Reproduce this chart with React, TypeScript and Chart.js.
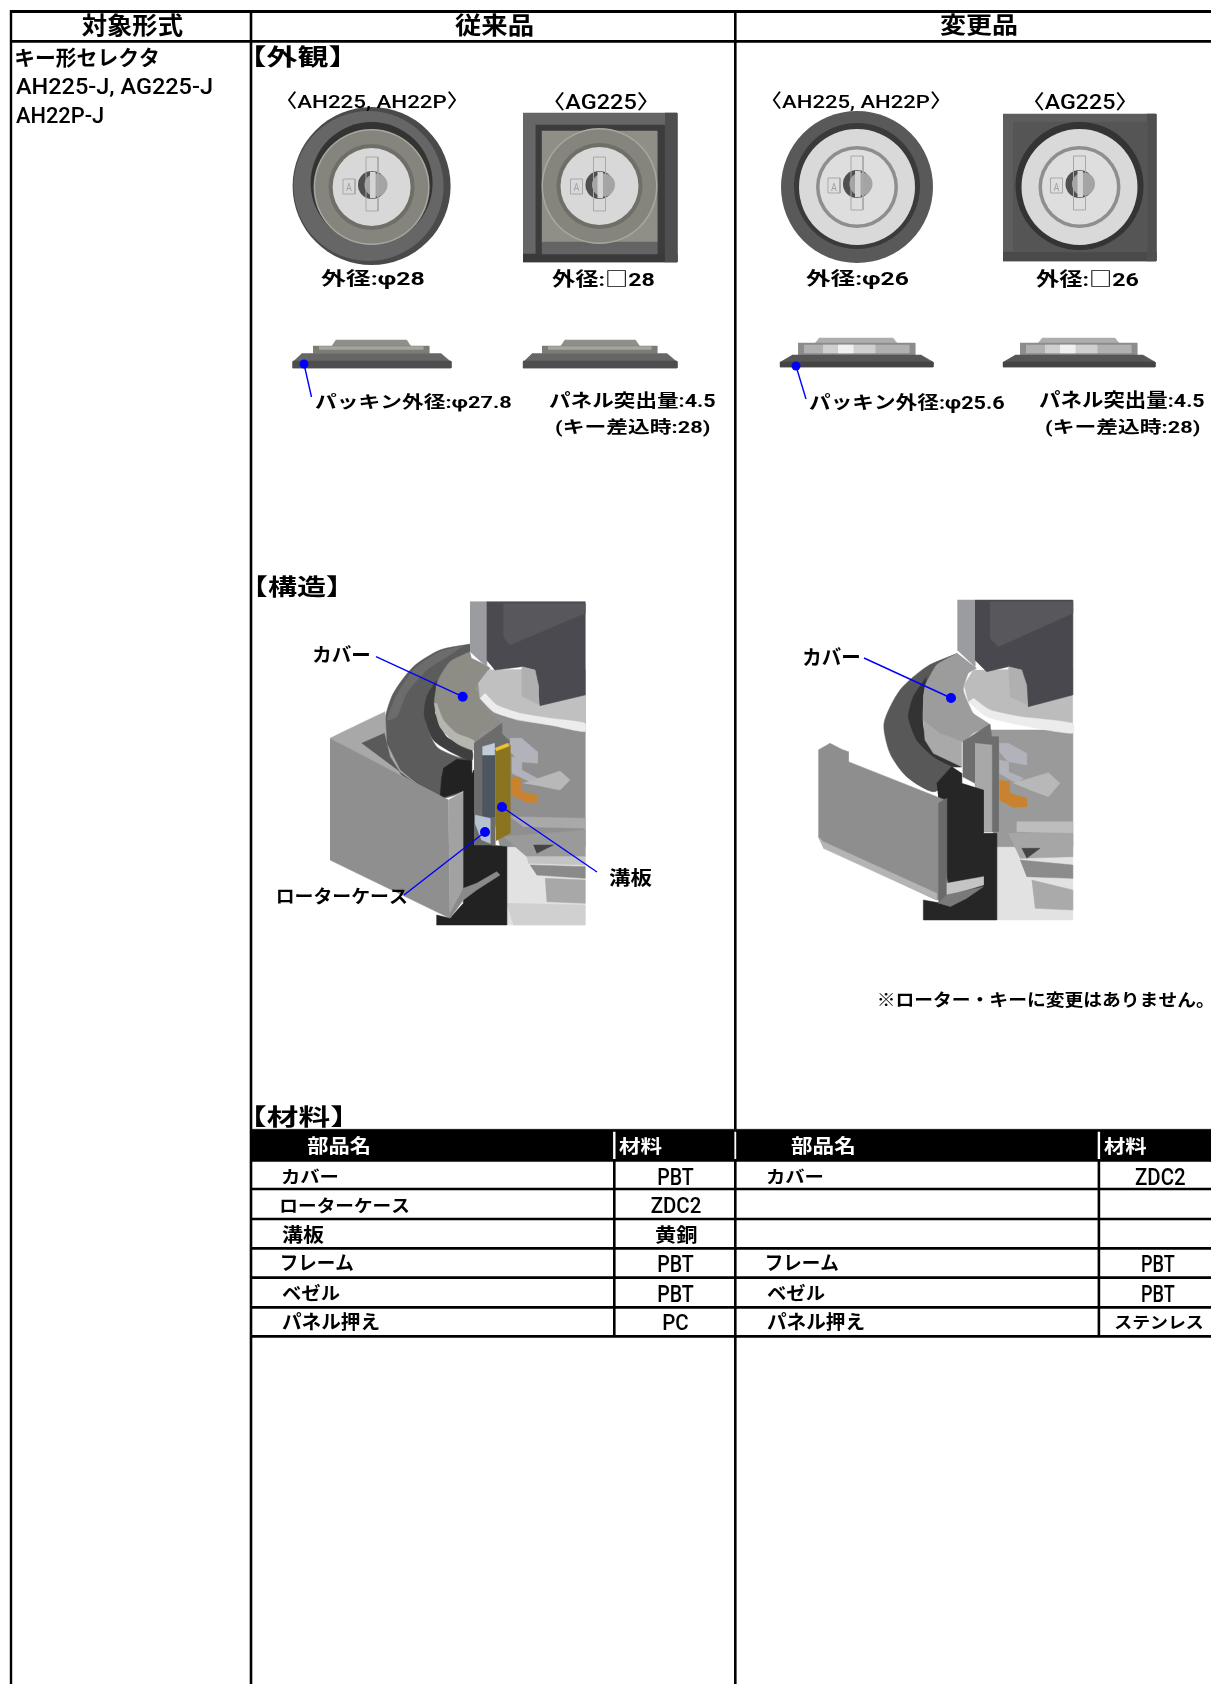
import React, { useEffect, useRef } from "react";
import { Chart, registerables } from "chart.js";

Chart.register(...registerables);

const PAGE_W = 1211;
const PAGE_H = 1684;
const FONT = 'Roboto, "Noto Sans CJK JP", sans-serif';

// ---- text content ----
const headers = ["対象形式", "従来品", "変更品"];
const targetLines = ["キー形セレクタ", "AH225-J, AG225-J", "AH22P-J"];
const sections = ["【外観】", "【構造】", "【材料】"];
const tableHead = ["部品名", "材料"];
const oldParts = ["カバー", "ローターケース", "溝板", "フレーム", "ベゼル", "パネル押え"];
const oldMaterials = ["PBT", "ZDC2", "黄銅", "PBT", "PBT", "PC"];
const newParts = ["カバー", "", "", "フレーム", "ベゼル", "パネル押え"];
const newMaterials = ["ZDC2", "", "", "PBT", "PBT", "ステンレス"];

// ---- table geometry, in page units of the hidden scales ----
const rowLines = [1161, 1189, 1219, 1248.3, 1277.7, 1307.3, 1336.3];
const partX = [[281.7, 337.3], [281.7, 409], [282, 324], [282, 353], [282, 340], [282, 379.3]];
const partY = [[1169, 1184.3], [1196.7, 1214.3], [1225, 1244.3], [1254, 1271.7], [1284, 1301.7], [1312.7, 1331.7]];
const newPartShift = 486;
const oldMatX = [[658, 694], [650.7, 700.7], [656, 696.7], [658, 694], [658, 694], [663, 688]];
const newMatX = [[1135, 1185], [0, 0], [0, 0], [1141.7, 1175], [1141.7, 1175], [1115, 1203]];
const matY = [[1168, 1184.5], [1197, 1213], [1225, 1244], [1255, 1271.7], [1284.5, 1301.7], [1315, 1330]];

type Ink = [string, number, number, number, number, string?, string?];
const freeLabels: Ink[] = [
  [headers[0], 81.7, 183, 13, 37],
  [headers[1], 455, 533, 13, 37],
  [headers[2], 940, 1017, 13, 37],
  [targetLines[0], 16, 158, 47, 68],
  [targetLines[1], 16, 211.7, 79, 98, "500"],
  [targetLines[2], 16, 103, 107, 123, "500"],
  [sections[0], 255, 340, 45, 68],
  [sections[1], 257, 337, 575, 598],
  [sections[2], 255, 342, 1105, 1128],
  ["〈AH225, AH22P〉", 287, 457, 92, 111, "500"],
  ["〈AH225, AH22P〉", 772, 940, 92, 111, "500"],
  ["〈AG225〉", 554.5, 647.5, 92, 111, "500"],
  ["〈AG225〉", 1034, 1126, 92, 111, "500"],
  ["外径:φ28", 321, 424, 269, 290],
  ["外径:□28", 552, 654, 269, 288],
  ["外径:φ26", 806, 908, 269, 290],
  ["外径:□26", 1036, 1138, 269, 288],
  ["パッキン外径:φ27.8", 315, 511, 393, 412],
  ["パネル突出量:4.5", 549, 715, 391, 409],
  ["(キー差込時:28)", 556, 710, 418, 437],
  ["パッキン外径:φ25.6", 809, 1004, 393, 413],
  ["パネル突出量:4.5", 1039, 1204, 390, 409],
  ["(キー差込時:28)", 1046, 1200, 418, 437],
  ["カバー", 313, 369, 646, 664],
  ["溝板", 609, 652, 868, 887],
  ["ローターケース", 278, 407, 887, 905],
  ["カバー", 803, 859, 648, 667],
  ["※ローター・キーに変更はありません。", 879, 1203, 991, 1009],
];

// ---- illustration outlines ----
type P = [number, number];
type Shape = [string, P[], number?];
const leftCut: Shape[] = [
  ["#e2e2e2", [[760, 810], [1005, 810], [1005, 1065], [760, 1065]]],
  ["#8f8f8f", [[680, 300], [1005, 300], [1005, 830], [750, 830], [680, 500]]],
  ["#a9a9a9", [[780, 740], [1005, 745], [1005, 775], [820, 770]]],
  ["#9a9a9a", [[760, 800], [1005, 780], [1005, 860], [830, 860]]],
  ["#444444", [[850, 825], [910, 825], [860, 850]]],
  ["#c4c4c4", [[830, 860], [1005, 860], [1005, 885], [835, 880]]],
  ["#8a8a8a", [[840, 885], [1005, 890], [1005, 925], [860, 915]]],
  ["#a8a8a8", [[885, 925], [1005, 930], [1005, 1000], [890, 995]]],
  ["#d0d0d0", [[770, 1000], [1005, 1005], [1005, 1065], [790, 1065]]],
  // cover rubber, outer band then inner dark band
  ["#5c5c5c", [[660, 222], [570, 240], [490, 290], [430, 370], [405, 450], [412, 530], [450, 600], [510, 648], [570, 685], [640, 660], [660, 570], [620, 560], [560, 530], [525, 450], [540, 380], [590, 310], [660, 262]], 0.25],
  ["#6c6c6c", [[640, 228], [570, 245], [495, 295], [440, 375], [412, 450], [440, 440], [470, 370], [530, 300], [600, 255]], 0.2],
  ["#3f3f3f", [[560, 330], [530, 380], [523, 440], [550, 510], [610, 550], [665, 572], [665, 540], [590, 500], [555, 430]], 0.25],
  ["#222222", [[580, 595], [620, 568], [665, 572], [665, 655], [570, 685], [575, 620]]],
  // cover face
  ["#8d8d85", [[660, 245], [600, 275], [565, 330], [553, 400], [570, 470], [620, 520], [672, 540], [690, 490], [750, 460], [705, 415], [680, 360], [690, 320], [720, 295], [665, 265]], 0.2],
  ["#b6b6b0", [[553, 400], [570, 470], [620, 520], [672, 540], [672, 512], [620, 490], [580, 450], [560, 400]], 0.2],
  // top disc and its bright edge
  ["#c0c0c0", [[715, 300], [685, 340], [690, 385], [730, 425], [800, 450], [900, 465], [1005, 470], [1005, 295]]],
  ["#ececec", [[690, 385], [730, 425], [800, 448], [900, 465], [1005, 485], [1005, 460], [900, 445], [810, 430], [740, 405], [705, 370]], 0.2],
  // key
  ["#9a9ca0", [[660, 95], [710, 95], [710, 290], [660, 245]]],
  ["#4a4a50", [[710, 95], [1005, 95], [1005, 375], [870, 407], [862, 340], [855, 300], [815, 290], [735, 300], [710, 270]]],
  ["#57575c", [[760, 100], [1005, 100], [1005, 130], [780, 225], [760, 200]]],
  ["#b0b0b0", [[815, 290], [855, 300], [865, 345], [865, 403], [815, 378]]],
  // pins and lever
  ["#b2b2ba", [[780, 505], [815, 505], [862, 545], [862, 580], [810, 575], [780, 545]]],
  ["#b2b2ba", [[785, 560], [815, 565], [815, 600], [862, 625], [840, 635], [785, 610]]],
  ["#b8b8b8", [[820, 640], [880, 620], [930, 603], [960, 630], [930, 660], [880, 650]]],
  ["#c98230", [[785, 622], [810, 622], [815, 665], [862, 675], [862, 697], [830, 697], [785, 675]]],
  // box
  ["#a8a8a8", [[240, 505], [270, 490], [405, 425], [410, 520], [450, 600], [510, 650], [565, 685], [595, 690]]],
  ["#5a5a5a", [[335, 520], [403, 490], [420, 560], [455, 615], [510, 650]]],
  ["#8f8f8f", [[240, 505], [595, 690], [600, 1045], [240, 870]]],
  ["#a2a2a2", [[595, 690], [640, 665], [640, 970], [600, 1045]]],
  // section
  ["#222222", [[640, 660], [672, 600], [672, 820], [770, 830], [770, 1065], [560, 1065], [560, 1035], [600, 1045], [640, 1000], [640, 970]]],
  ["#8a8a8a", [[640, 955], [680, 940], [740, 905], [750, 915], [680, 960], [640, 990], [600, 1045], [600, 1030]]],
  ["#6c6c6c", [[672, 520], [755, 460], [755, 490], [780, 515], [735, 545], [735, 825], [672, 825]]],
  ["#4c5560", [[697, 530], [733, 520], [733, 740], [697, 745]]],
  ["#c0ccd8", [[697, 530], [733, 520], [733, 555], [697, 555]]],
  ["#b5c2cf", [[675, 735], [720, 745], [720, 820], [695, 810], [675, 760]]],
  ["#8a7420", [[738, 540], [780, 525], [780, 790], [738, 812]]],
  ["#eec331", [[735, 535], [772, 520], [778, 528], [738, 543]]],
];
const rightCut: Shape[] = [
  ["#e2e2e2", [[710, 820], [938, 820], [938, 1050], [710, 1050]]],
  ["#9a9a9a", [[690, 480], [938, 480], [938, 830], [700, 830]]],
  ["#bdbdbd", [[770, 755], [938, 755], [938, 790], [770, 785]]],
  ["#a6a6a6", [[745, 790], [938, 790], [938, 860], [780, 865]]],
  ["#444444", [[785, 835], [840, 835], [800, 865]]],
  ["#8c8c8c", [[780, 870], [938, 885], [938, 925], [800, 920]]],
  ["#aaaaaa", [[815, 930], [938, 960], [938, 1020], [825, 1015]]],
  // rubber
  ["#585858", [[592, 250], [500, 290], [420, 360], [372, 460], [390, 550], [440, 620], [525, 665], [580, 590], [540, 570], [500, 530], [470, 470], [480, 390], [520, 310]], 0.25],
  ["#333333", [[500, 320], [460, 380], [445, 440], [470, 510], [520, 560], [580, 590], [605, 590], [520, 540], [490, 470], [490, 380]], 0.2],
  // cover
  ["#9c9c9c", [[592, 250], [530, 285], [495, 350], [490, 450], [520, 500], [610, 515], [640, 490], [690, 465], [640, 430], [610, 360], [625, 310], [650, 295]], 0.15],
  ["#a9a9a9", [[490, 450], [495, 510], [520, 550], [605, 590], [605, 515], [540, 490]]],
  // disc
  ["#bcbcbc", [[640, 300], [612, 345], [625, 395], [680, 430], [780, 450], [938, 470], [938, 295]]],
  ["#ececec", [[625, 395], [680, 440], [780, 465], [938, 490], [938, 460], [780, 440], [690, 420], [640, 385]], 0.2],
  // key
  ["#9a9ca0", [[592, 90], [645, 90], [645, 290], [592, 240]]],
  ["#48484e", [[645, 90], [938, 90], [938, 375], [805, 410], [795, 340], [785, 300], [745, 290], [680, 305], [645, 270]]],
  ["#57575c", [[690, 95], [938, 95], [938, 130], [715, 230], [690, 205]]],
  ["#b0b0b0", [[745, 290], [785, 300], [800, 345], [803, 405], [750, 380]]],
  // pins
  ["#b2b2ba", [[718, 520], [745, 520], [800, 550], [800, 585], [745, 575], [718, 545]]],
  ["#b2b2ba", [[718, 570], [745, 575], [745, 605], [790, 625], [770, 640], [718, 610]]],
  ["#b8b8b8", [[760, 640], [810, 625], [865, 608], [900, 640], [865, 680], [810, 660]]],
  ["#c98230", [[718, 630], [748, 635], [750, 670], [800, 685], [800, 710], [760, 712], [718, 690]]],
  // section
  ["#6e6e6e", [[608, 515], [690, 462], [695, 500], [715, 500], [715, 785], [670, 785], [645, 640], [608, 620]]],
  ["#a8a8a8", [[645, 520], [695, 525], [695, 785], [670, 785], [645, 640]]],
  ["#262626", [[530, 640], [575, 590], [605, 610], [605, 640], [670, 660], [670, 790], [710, 790], [710, 1050], [490, 1050], [490, 990], [545, 1000], [565, 960]]],
  // panel
  ["#8e8e8e", [[175, 540], [210, 520], [245, 538], [265, 545], [265, 575], [555, 690], [555, 985], [530, 990], [190, 830], [175, 800]]],
  ["#b4b4b4", [[175, 800], [190, 815], [530, 970], [530, 990], [190, 835]]],
  ["#6a6a6a", [[535, 700], [560, 685], [560, 985], [535, 1000]]],
  ["#c4c4c4", [[560, 940], [670, 920], [670, 945], [590, 970], [560, 975]]],
  ["#7a7a7a", [[535, 1000], [560, 975], [670, 950], [620, 985], [570, 1010]]],
];
const blueLeaders: [P, P][] = [
  [[304, 364], [311.5, 397]],
  [[796, 366], [806, 399]],
  [[376, 656.7], [462.7, 696.7]],
  [[502, 807], [597, 872]],
  [[485, 832], [404, 895]],
  [[864, 658], [951, 698]],
];

type DS = any;
const built: DS[] = [];
const poly = (pts: P[], color: string, tension = 0) =>
  built.push({
    type: "line",
    data: pts.map(([x, y]) => ({ x, y })),
    fill: "shape",
    backgroundColor: color,
    borderColor: color,
    borderWidth: 0.5,
    pointRadius: 0,
    tension,
  });
const box = (x0: number, y0: number, x1: number, y1: number, c: string) =>
  poly([[x0, y0], [x1, y0], [x1, y1], [x0, y1]], c);
const disc = (x: number, y: number, r: number, color: string) =>
  built.push({
    type: "scatter",
    data: [{ x, y }],
    showLine: false,
    pointRadius: r,
    pointStyle: "circle",
    pointBackgroundColor: color,
    pointBorderWidth: 0,
  });
const rule = (x0: number, y0: number, x1: number, y1: number, w: number, c = "#000000") =>
  built.push({
    type: "line",
    data: [{ x: x0, y: y0 }, { x: x1, y: y1 }],
    borderColor: c,
    borderWidth: w,
    borderCapStyle: "butt",
    pointRadius: 0,
    fill: false,
  });

function keyFace(cx: number, cy: number, rings: [number, string][], hx: number, hy: number) {
  rings.forEach(([r, c]) => disc(cx, cy, r, c));
  disc(hx, hy, 14, "#4f4f4f");
  disc(hx + 4, hy, 11.5, "#a4a4a4");
  const o = "#a8a8a8";
  // key-slot outline
  rule(hx - 6, hy - 28, hx + 6, hy - 28, 1, o);
  rule(hx + 6, hy - 28, hx + 6, hy + 26, 1, o);
  rule(hx + 6, hy + 26, hx - 6, hy + 26, 1, o);
  rule(hx - 6, hy + 26, hx - 6, hy - 28, 1, o);
  // key profile inside the hole
  poly([[hx - 2, hy - 13], [hx + 3, hy - 13], [hx + 3, hy + 13], [hx - 2, hy + 13]], "#d4d4d4");
  // "A" frame
  rule(hx - 29, hy - 6, hx - 17, hy - 6, 1, o);
  rule(hx - 17, hy - 6, hx - 17, hy + 9, 1, o);
  rule(hx - 17, hy + 9, hx - 29, hy + 9, 1, o);
  rule(hx - 29, hy + 9, hx - 29, hy - 6, 1, o);
}

function buildIllustrations() {
  // front views
  const oldRings: [number, string][] = [[58, "#a8a8a0"], [56.5, "#85857d"], [43, "#6f6f68"], [39, "#d8d8d8"]];
  const newRings: [number, string][] = [[58, "#d9d9d9"], [41, "#8e8e8e"], [37.5, "#dedede"]];
  disc(371.6, 186, 79, "#4a4a4a");
  disc(368.6, 186, 75, "#666666");
  disc(371.6, 183, 61, "#333333");
  keyFace(371.6, 187, oldRings, 372, 185);

  box(523, 113, 677, 262, "#666666");
  box(523, 254, 677, 262, "#3a3a3a");
  box(665, 113, 677, 262, "#4e4e4e");
  box(535.6, 125, 664.5, 254, "#3c3c3c");
  box(541.8, 131, 657, 242, "#8f8f87");
  box(541.8, 242, 657, 254, "#646464");
  keyFace(599.5, 186, oldRings, 599.5, 185);

  disc(857, 187, 76, "#595959");
  disc(857, 186, 63, "#3a3a3a");
  keyFace(857, 187, newRings, 857, 184);

  box(1003, 114, 1156, 261, "#5d5d5d");
  box(1003, 252, 1156, 261, "#4a4a4a");
  box(1147, 114, 1156, 261, "#4f4f4f");
  box(1013, 122, 1147, 252, "#555555");
  disc(1079.5, 186, 64, "#343434");
  keyFace(1079.5, 187, newRings, 1079.5, 184);

  // side views
  const sideOld = (l: number, m0: number, m1: number, t0: number, t1: number, r: number) => {
    poly([[t0 + 4, 340], [t1 - 4, 340], [t1, 346], [t0, 346]], "#8f8f8a");
    box(m0, 346, m1, 353.5, "#7c7c74");
    box(m0 + 6, 346.5, m1 - 6, 349.5, "#a5a59f");
    poly([[l + 9, 353.5], [r - 10, 353.5], [r, 362], [r, 368], [l, 368], [l, 362]], "#666666");
    box(l, 361, r, 368, "#4e4e4e");
  };
  sideOld(292.6, 313, 429, 331.7, 410.7, 451);
  sideOld(523, 542, 657, 560.6, 639.5, 677);
  const sideNew = (l: number, m0: number, m1: number, t0: number, t1: number, r: number) => {
    poly([[t0 + 4, 338], [t1 - 4, 338], [t1, 343], [t0, 343]], "#adadad");
    box(m0, 343, m1, 355, "#8c8c8c");
    box(m0 + 6, 345, m1 - 6, 353, "#b0b0b0");
    box(m0 + 25, 345, m1 - 40, 353, "#cfcfcf");
    box(m0 + 40, 345, m1 - 62, 353, "#f0f0f0");
    poly([[l + 12, 355], [r - 12, 355], [r, 362], [r, 367], [l, 367], [l, 362]], "#565656");
    box(l, 362, r, 367, "#444444");
  };
  sideNew(780, 798, 915, 815, 897, 933);
  sideNew(1003, 1020, 1137, 1038, 1119, 1155);

  // cut-aways
  leftCut.forEach(([c, pts, t]) => poly(pts.map(([x, y]) => [x / 3 + 250, y / 3 + 570] as P), c, t));
  rightCut.forEach(([c, pts, t]) => poly(pts.map(([x, y]) => [x / 3 + 760, y / 3 + 570] as P), c, t));

  // leaders
  blueLeaders.forEach(([a, b]) => rule(a[0], a[1], b[0], b[1], 1.4, "#0000ff"));
  disc(304, 364, 4.5, "#0000ff");
  disc(796, 366, 4.5, "#0000ff");
  disc(462.7, 696.7, 5, "#0000ff");
  disc(502, 807, 5, "#0000ff");
  disc(485, 832, 5, "#0000ff");
  disc(951, 698, 5, "#0000ff");
}

function buildRules() {
  box(251, 1129.3, PAGE_W, 1161.5, "#000000");
  rule(10, 11.5, PAGE_W, 11.5, 3);
  rule(10, 41.3, PAGE_W, 41.3, 2.7);
  rule(11, 10, 11, PAGE_H, 2.4);
  rule(251, 10, 251, PAGE_H, 2.6);
  rule(735.3, 10, 735.3, 1129.3, 2.6);
  rule(735.3, 1161, 735.3, PAGE_H, 2.6);
  rule(735.3, 1131.7, 735.3, 1159, 1.8, "#ffffff");
  rule(614.3, 1131.7, 614.3, 1159, 2.4, "#ffffff");
  rule(1098.9, 1131.7, 1098.9, 1159, 2.4, "#ffffff");
  rule(614.3, 1161, 614.3, rowLines[6], 2.6);
  rule(1098.9, 1161, 1098.9, rowLines[6], 2.6);
  rowLines.slice(1).forEach((y) => rule(251, y, PAGE_W, y, 2.7));
}

const textPlugin = {
  id: "pageText",
  afterDatasetsDraw(chart: any) {
    const { ctx, scales } = chart;
    const put = (t: string, x0: number, x1: number, y0: number, y1: number, weight = "bold", color = "#000000") => {
      if (!t) return;
      const size = 24;
      ctx.save();
      ctx.font = `${weight} ${size}px ${FONT}`;
      ctx.textAlign = "left";
      ctx.textBaseline = "alphabetic";
      ctx.fillStyle = color;
      const m = ctx.measureText(t);
      const inkW = m.actualBoundingBoxLeft + m.actualBoundingBoxRight;
      const inkH = m.actualBoundingBoxAscent + m.actualBoundingBoxDescent;
      const px0 = scales.x.getPixelForValue(x0);
      const px1 = scales.x.getPixelForValue(x1);
      const py0 = scales.y.getPixelForValue(y0);
      const py1 = scales.y.getPixelForValue(y1);
      const sx = (px1 - px0) / inkW;
      const sy = (py1 - py0) / inkH;
      ctx.translate(px0 + m.actualBoundingBoxLeft * sx, py0 + m.actualBoundingBoxAscent * sy);
      ctx.scale(sx, sy);
      ctx.fillText(t, 0, 0);
      ctx.restore();
    };
    freeLabels.forEach(([t, a, b, c, d, w, col]) => put(t, a, b, c, d, w, col));
    // glyph "A" on each lock face
    [[349, 186.5], [576.5, 186.5], [834, 186.5], [1056.5, 186.5]].forEach(([x, y]) =>
      put("A", x - 3, x + 3, y - 4, y + 4, "normal", "#a0a0a0")
    );
    // table
    [[307.3, 369.3], [791, 854]].forEach(([a, b]) => put(tableHead[0], a, b, 1136.7, 1155.7, "bold", "#ffffff"));
    [[619, 662], [1104, 1146.7]].forEach(([a, b]) => put(tableHead[1], a, b, 1136.7, 1155, "bold", "#ffffff"));
    oldParts.forEach((t, i) => {
      const isLatin = (s: string) => /^[A-Z0-9]+$/.test(s);
      put(t, partX[i][0], partX[i][1], partY[i][0], partY[i][1]);
      put(oldMaterials[i], oldMatX[i][0], oldMatX[i][1], matY[i][0], matY[i][1], isLatin(oldMaterials[i]) ? "500" : "bold");
      put(newParts[i], partX[i][0] + newPartShift - 1, partX[i][1] + newPartShift - 1, partY[i][0], partY[i][1]);
      put(newMaterials[i], newMatX[i][0], newMatX[i][1], matY[i][0], matY[i][1], isLatin(newMaterials[i]) ? "500" : "bold");
    });
  },
};

export default function App() {
  const ref = useRef<HTMLCanvasElement>(null);
  useEffect(() => {
    document.body.style.margin = "0";
    built.length = 0;
    buildIllustrations();
    buildRules();
    // Chart.js paints the first dataset last, so hand them over reversed.
    const datasets = [...built].reverse();
    const chart = new Chart(ref.current!, {
      type: "line",
      data: { datasets },
      plugins: [textPlugin],
      options: {
        animation: false,
        responsive: false,
        events: [],
        layout: { padding: 0, autoPadding: false },
        plugins: { legend: { display: false }, tooltip: { enabled: false }, title: { display: false } },
        scales: {
          x: { type: "linear", min: 0, max: PAGE_W, display: false },
          y: { type: "linear", min: 0, max: PAGE_H, reverse: true, display: false },
        },
      },
    } as any);
    return () => chart.destroy();
  }, []);
  return (
    <canvas
      ref={ref}
      width={PAGE_W}
      height={PAGE_H}
      style={{ display: "block", width: PAGE_W, height: PAGE_H, background: "#ffffff" }}
    />
  );
}
